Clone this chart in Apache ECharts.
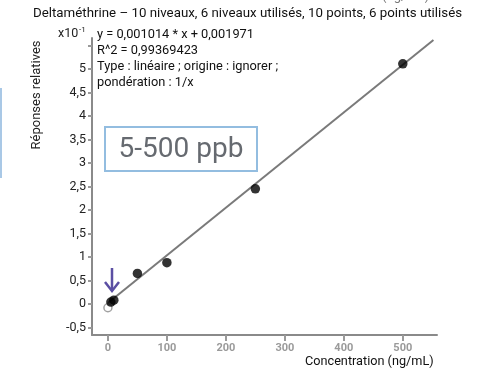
<!DOCTYPE html>
<html><head><meta charset="utf-8">
<script src="https://cdn.jsdelivr.net/npm/echarts@6/dist/echarts.min.js"></script>
<style>html,body{margin:0;padding:0;background:#fff}#c{width:480px;height:373px}</style>
</head><body><div id="c"></div>
<script>
// Calibration points (concentration in ng/mL, relative response in x10^-1)
const usedConc = [5, 10, 50, 100, 250, 500];
const usedResp = [0.04, 0.08, 0.65, 0.88, 2.45, 5.11];
const excludedConc = [0];
const excludedResp = [-0.08];
// Fitted line as stated in the legend: y = 0,001014 * x + 0,001971
const fitSlope = 0.001014;
const fitIntercept = 0.001971;
const fitRange = [0, 552];
const xTicks = [0, 100, 200, 300, 400, 500];
const yTicks = [-0.5, 0, 0.5, 1, 1.5, 2, 2.5, 3, 3.5, 4, 4.5, 5, 5.5];
const yLabels = [-0.5, 0, 0.5, 1, 1.5, 2, 2.5, 3, 3.5, 4, 4.5, 5];
const legendLines = [
  'y = 0,001014 * x + 0,001971',
  'R^2 = 0,99369423',
  'Type : linéaire ; origine : ignorer ;',
  'pondération : 1/x'
];

const fitLine = fitRange.map(x => [x, (fitSlope * x + fitIntercept) * 10]);
const FONT = 'Roboto, "Noto Sans", sans-serif';

const chart = echarts.init(document.getElementById('c'), null, {renderer: 'canvas'});
chart.setOption({
  backgroundColor: '#ffffff',
  animation: false,
  grid: {left: 92, right: 43, top: 38, bottom: 38},
  xAxis: {
    type: 'value', min: -27, max: 558,
    splitLine: {show: false},
    axisLine: {onZero: false, lineStyle: {color: '#8a8a8a', width: 2}},
    axisTick: {show: true, customValues: xTicks, length: 6, lineStyle: {color: '#9a9a9a', width: 2}},
    axisLabel: {customValues: xTicks, color: '#9a9a9a', fontSize: 11, fontWeight: 'bold', margin: 8, fontFamily: FONT}
  },
  yAxis: {
    type: 'value', min: -0.66, max: 5.66,
    splitLine: {show: false},
    axisLine: {onZero: false, lineStyle: {color: '#8a8a8a', width: 2}},
    axisTick: {show: true, customValues: yTicks, length: 4, lineStyle: {color: '#9a9a9a', width: 2}},
    axisLabel: {customValues: yLabels, color: '#222', fontSize: 12.5, margin: 6, fontFamily: FONT,
      formatter: v => String(v).replace('.', ',')}
  },
  series: [
    {type: 'line', data: fitLine, showSymbol: false, silent: true,
      lineStyle: {color: '#7a7a7a', width: 2}, z: 2},
    {type: 'scatter', data: excludedConc.map((x, i) => [x, excludedResp[i]]),
      symbol: 'circle', symbolSize: 8,
      itemStyle: {color: '#ffffff', borderColor: '#8a8a8a', borderWidth: 1.5}, z: 3},
    {type: 'scatter', data: usedConc.map((x, i) => [x, usedResp[i]]),
      symbol: 'circle', symbolSize: 9.5, itemStyle: {color: '#000000'}, z: 4}
  ],
  graphic: [
    // header strip
    {type: 'rect', shape: {x: 30, y: 5, width: 436, height: 18}, style: {fill: '#ffffff'}, z: 10},
    {type: 'text', x: 33, y: 7, style: {text: 'Deltaméthrine – 10 niveaux, 6 niveaux utilisés, 10 points, 6 points utilisés',
      font: '13.3px ' + FONT, fill: '#111'}, z: 11},
    // clipped axis title from the panel above
    {type: 'text', x: 382, y: -10, style: {text: '(ng/mL)', font: '13px ' + FONT, fill: '#777'}, z: 11},
    // exponent marker
    {type: 'text', x: 58, y: 27, style: {text: 'x10', font: '12.5px ' + FONT, fill: '#222'}, z: 11},
    {type: 'text', x: 79, y: 26, style: {text: '-1', font: '8px ' + FONT, fill: '#222'}, z: 11},
    // fit legend box
    {type: 'rect', shape: {x: 94, y: 25, width: 214, height: 66}, style: {fill: '#ffffff'}, z: 10},
    {type: 'text', x: 97, y: 27, style: {text: legendLines.join('\n'), font: '12.8px ' + FONT,
      lineHeight: 16, fill: '#111'}, z: 11},
    // y axis title
    {type: 'text', x: 37, y: 95, rotation: Math.PI / 2,
      style: {text: 'Réponses relatives', font: '13px ' + FONT, fill: '#222', align: 'center', verticalAlign: 'middle'}, z: 11},
    // x axis title
    {type: 'rect', shape: {x: 302, y: 354, width: 134, height: 17}, style: {fill: '#ffffff'}, z: 10},
    {type: 'text', x: 305, y: 355, style: {text: 'Concentration (ng/mL)', font: '12.7px ' + FONT, fill: '#111'}, z: 11},
    // range annotation
    {type: 'rect', shape: {x: 105, y: 127, width: 152, height: 44},
      style: {fill: '#ffffff', stroke: '#93bde0', lineWidth: 2}, z: 10},
    {type: 'text', x: 181, y: 150, style: {text: '5-500 ppb', font: '28px ' + FONT, fill: '#666a70',
      align: 'center', verticalAlign: 'middle'}, z: 11},
    // arrow pointing at the low-level points
    {type: 'line', shape: {x1: 112, y1: 268, x2: 112, y2: 290}, style: {stroke: '#5b4fa3', lineWidth: 2.5}, z: 11},
    {type: 'polyline', shape: {points: [[105, 282], [112, 291], [119, 282]]},
      style: {stroke: '#5b4fa3', lineWidth: 2.5, fill: null}, z: 11},
    // edge of the neighbouring panel
    {type: 'line', shape: {x1: 1, y1: 88, x2: 1, y2: 178}, style: {stroke: '#a9c8e6', lineWidth: 2}, z: 11}
  ]
});
</script>
</body></html>
